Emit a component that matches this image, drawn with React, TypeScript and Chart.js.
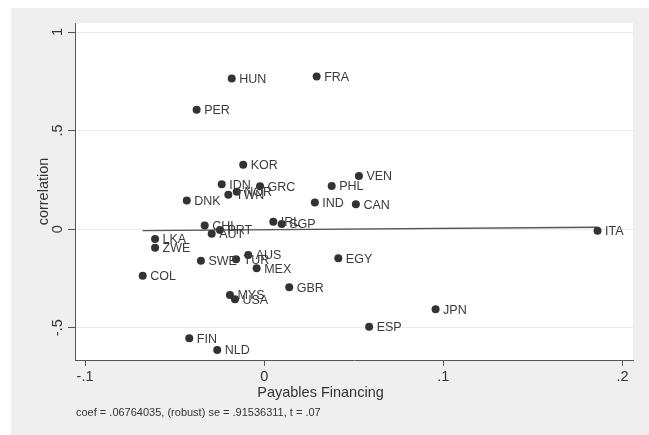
import React, { useEffect, useRef } from 'react';
import { Chart, registerables } from 'chart.js';

Chart.register(...registerables);

const countries = [
  'HUN', 'FRA', 'PER', 'KOR', 'IDN', 'NOR', 'TWN', 'GRC', 'DNK', 'CHL',
  'PRT', 'AUT', 'LKA', 'ZWE', 'IRL', 'SGP', 'IND', 'PHL', 'VEN', 'CAN',
  'ITA', 'SWE', 'TUR', 'AUS', 'MEX', 'EGY', 'COL', 'GBR', 'MYS', 'USA',
  'ESP', 'FIN', 'NLD', 'JPN',
];
const payables = [
  -0.0181, 0.0293, -0.0377, -0.0117, -0.0237, -0.0153, -0.0200, -0.0023, -0.0432, -0.0332,
  -0.0247, -0.0293, -0.0609, -0.0609, 0.0051, 0.0098, 0.0283, 0.0377, 0.0529, 0.0512,
  0.1861, -0.0353, -0.0157, -0.0089, -0.0042, 0.0414, -0.0678, 0.0140, -0.0191, -0.0163,
  0.0586, -0.0418, -0.0262, 0.0957,
];
const correlation = [
  0.764, 0.774, 0.605, 0.326, 0.228, 0.190, 0.174, 0.217, 0.145, 0.018,
  -0.004, -0.023, -0.050, -0.094, 0.038, 0.026, 0.135, 0.219, 0.270, 0.126,
  -0.008, -0.160, -0.153, -0.131, -0.198, -0.148, -0.236, -0.295, -0.334, -0.356,
  -0.495, -0.554, -0.613, -0.407,
];
const fitX = [-0.0678, 0.1861];
const fitY = [-0.0076, 0.0096];

const xTicks = [-0.1, 0, 0.1, 0.2];
const xTickLabels = ['-.1', '0', '.1', '.2'];
const yTicks = [-0.5, 0, 0.5, 1];
const yTickLabels = ['-.5', '0', '.5', '1'];

const xTitle = 'Payables Financing';
const yTitle = 'correlation';
const footnote = 'coef = .06764035, (robust) se = .91536311, t = .07';

const FONT = "'Liberation Sans', Arial, Helvetica, sans-serif";
const TEXT = '#333333';
const BG = '#efefef';

const W = 638;
const H = 427;

const decorPlugin = {
  id: 'decor',
  beforeDraw(chart: any) {
    const { ctx, chartArea } = chart;
    ctx.save();
    ctx.fillStyle = BG;
    ctx.fillRect(0, 0, chart.width, chart.height);
    ctx.fillStyle = '#ffffff';
    ctx.fillRect(chartArea.left, chartArea.top, chartArea.right - chartArea.left, chartArea.bottom - chartArea.top);
    ctx.restore();
  },
  afterDatasetsDraw(chart: any) {
    const { ctx } = chart;
    const meta = chart.getDatasetMeta(0);
    ctx.save();
    ctx.font = `12.5px ${FONT}`;
    ctx.fillStyle = '#3a3a3a';
    ctx.textAlign = 'left';
    ctx.textBaseline = 'middle';
    meta.data.forEach((pt: any, i: number) => {
      ctx.fillText(countries[i], pt.x + 7.5, pt.y + 1);
    });
    ctx.restore();
  },
  afterDraw(chart: any) {
    const { ctx, chartArea } = chart;
    const yScale = chart.scales.y;
    ctx.save();
    ctx.fillStyle = TEXT;
    ctx.font = `14.5px ${FONT}`;
    yTicks.forEach((v, i) => {
      const py = yScale.getPixelForValue(v);
      ctx.save();
      ctx.translate(chartArea.left - 13, py);
      ctx.rotate(-Math.PI / 2);
      ctx.textAlign = 'center';
      ctx.textBaseline = 'alphabetic';
      ctx.fillText(yTickLabels[i], 0, 0);
      ctx.restore();
    });
    ctx.save();
    ctx.translate(37, (chartArea.top + chartArea.bottom) / 2);
    ctx.rotate(-Math.PI / 2);
    ctx.textAlign = 'center';
    ctx.textBaseline = 'alphabetic';
    ctx.fillText(yTitle, 0, 0);
    ctx.restore();
    ctx.textAlign = 'center';
    ctx.textBaseline = 'alphabetic';
    ctx.fillText(xTitle, 309.5, 389.3);
    ctx.font = `11px ${FONT}`;
    ctx.textAlign = 'left';
    ctx.fillText(footnote, 65, 407.7);
    ctx.restore();
  },
};

export default function App() {
  const ref = useRef<HTMLCanvasElement | null>(null);
  useEffect(() => {
    if (!ref.current) return;
    const chart = new Chart(ref.current, {
      type: 'scatter',
      data: {
        datasets: [
          {
            type: 'scatter',
            data: payables.map((x, i) => ({ x, y: correlation[i] })),
            pointRadius: 4,
            pointHoverRadius: 4,
            pointBackgroundColor: '#333333',
            pointBorderWidth: 0,
            borderWidth: 0,
          } as any,
          {
            type: 'line',
            data: fitX.map((x, i) => ({ x, y: fitY[i] })),
            borderColor: '#555555',
            borderWidth: 1.3,
            pointRadius: 0,
            fill: false,
          } as any,
        ],
      },
      options: {
        animation: false,
        responsive: false,
        devicePixelRatio: 1,
        layout: { padding: { top: 15, right: 16, bottom: 0, left: 0 } },
        plugins: {
          legend: { display: false },
          tooltip: { enabled: false },
        },
        scales: {
          x: {
            type: 'linear',
            min: -0.1056,
            max: 0.2059,
            afterBuildTicks: (s: any) => {
              s.ticks = xTicks.map((v) => ({ value: v }));
            },
            afterFit: (s: any) => {
              s.height = 75;
            },
            ticks: {
              font: { size: 14.5, family: FONT },
              color: TEXT,
              padding: 2,
              maxRotation: 0,
              minRotation: 0,
              callback: (v: any) => {
                const idx = xTicks.findIndex((t) => Math.abs(t - Number(v)) < 1e-9);
                return idx >= 0 ? xTickLabels[idx] : '';
              },
            },
            grid: {
              drawOnChartArea: false,
              drawTicks: true,
              tickLength: 6,
              tickColor: '#555555',
              lineWidth: 1,
            },
            border: { display: true, color: '#555555', width: 1 },
          },
          y: {
            type: 'linear',
            min: -0.664,
            max: 1.0457,
            afterBuildTicks: (s: any) => {
              s.ticks = yTicks.map((v) => ({ value: v }));
            },
            afterFit: (s: any) => {
              s.width = 64;
            },
            ticks: { display: false },
            grid: {
              drawOnChartArea: true,
              drawTicks: true,
              tickLength: 7,
              color: '#eaeaea',
              tickColor: '#555555',
              lineWidth: 1,
            },
            border: { display: true, color: '#555555', width: 1 },
          },
        },
      },
      plugins: [decorPlugin],
    });
    return () => chart.destroy();
  }, []);
  return (
    <div style={{ position: 'fixed', left: 11, top: 8, right: 0, bottom: 0, background: BG, overflow: 'hidden' }}>
      <canvas ref={ref} width={W} height={H} style={{ display: 'block', width: W, height: H }} />
    </div>
  );
}
